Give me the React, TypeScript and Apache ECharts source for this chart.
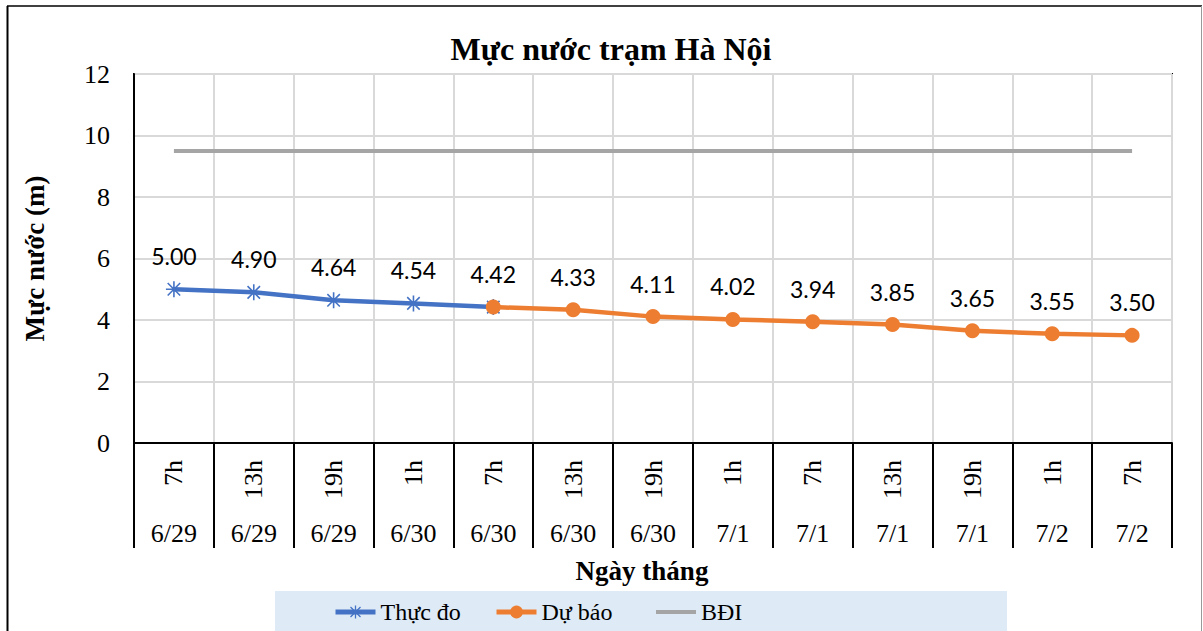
import React, { useEffect, useRef } from "react";
import * as echarts from "echarts";

const hours = ["7h", "13h", "19h", "1h", "7h", "13h", "19h", "1h", "7h", "13h", "19h", "1h", "7h"];
const dates = ["6/29", "6/29", "6/29", "6/30", "6/30", "6/30", "6/30", "7/1", "7/1", "7/1", "7/1", "7/2", "7/2"];
const thucDo = [5.0, 4.9, 4.64, 4.54, 4.42, null, null, null, null, null, null, null, null];
const duBao = [null, null, null, null, 4.42, 4.33, 4.11, 4.02, 3.94, 3.85, 3.65, 3.55, 3.5];
const bdi = [9.5, 9.5, 9.5, 9.5, 9.5, 9.5, 9.5, 9.5, 9.5, 9.5, 9.5, 9.5, 9.5];
const yTicks = { min: 0, max: 12, interval: 2 };
const seriesNames = ["Thực đo", "Dự báo", "BĐI"];

const SERIF = "'Liberation Serif', 'Times New Roman', serif";
const SANS = "Lato, 'Noto Sans', sans-serif";
const STAR =
  "path://M9,0H11V20H9Z M0,9H20V11H0Z M1.5,2.9L2.9,1.5L18.5,17.1L17.1,18.5Z M17.1,1.5L18.5,2.9L2.9,18.5L1.5,17.1Z";
const LINE_ICON = "path://M0,0H0.01V0.01H0Z M0,6H40V10H0Z M39.99,15.99H40V16H39.99Z";

export default function App() {
  const ref = useRef<HTMLDivElement>(null);
  useEffect(() => {
    if (!ref.current) return;
    const chart = echarts.init(ref.current, undefined, { renderer: "svg" });
    const label = (hideIdx: number | null) => ({
      show: true,
      position: "top",
      distance: 14,
      color: "#000",
      fontFamily: SANS,
      fontSize: 23,
      formatter: (p: any) => (p.dataIndex === hideIdx || p.value == null ? "" : Number(p.value).toFixed(2)),
    });
    const legendLefts = [333, 494, 656];
    const legends = seriesNames.map((n, i) => ({
      data: [i === 2 ? { name: n, icon: LINE_ICON } : n],
      left: legendLefts[i],
      top: 600,
      padding: 0,
      itemWidth: 40,
      itemHeight: 16,
      itemGap: 0,
      lineStyle: { width: 5 },
      textStyle: { fontFamily: SERIF, fontSize: 24, color: "#000" },
    }));
    chart.setOption({
      animation: false,
      backgroundColor: "#fff",
      title: {
        text: "Mực nước trạm Hà Nội",
        left: 606,
        textAlign: "center",
        top: 28,
        textStyle: { fontFamily: SERIF, fontWeight: "bold", fontSize: 32, color: "#000" },
      },
      grid: {
        left: 134,
        top: 74,
        width: 1038,
        height: 369,
        show: true,
        borderColor: "#000",
        borderWidth: 2,
        containLabel: false,
      },
      legend: legends,
      xAxis: [
        {
          type: "category",
          data: hours,
          boundaryGap: true,
          axisLine: { lineStyle: { color: "#000", width: 2 } },
          axisTick: { show: true, length: 105, interval: 0, lineStyle: { color: "#000", width: 2 } },
          splitLine: { show: true, interval: 0, lineStyle: { color: "#d9d9d9", width: 2 } },
          axisLabel: { interval: 0, rotate: 90, margin: 17, fontFamily: SERIF, fontSize: 26, color: "#000" },
        },
        {
          type: "category",
          data: dates,
          position: "bottom",
          boundaryGap: true,
          axisLine: { show: false },
          axisTick: { show: false },
          splitLine: { show: false },
          axisLabel: { interval: 0, margin: 77, fontFamily: SERIF, fontSize: 26, color: "#000" },
        },
      ],
      yAxis: {
        type: "value",
        min: yTicks.min,
        max: yTicks.max,
        interval: yTicks.interval,
        name: "Mực nước (m)",
        nameLocation: "middle",
        nameGap: 86,
        nameTextStyle: { fontFamily: SERIF, fontWeight: "bold", fontSize: 27, color: "#000" },
        axisLine: { show: true, lineStyle: { color: "#000", width: 2 } },
        axisTick: { show: false },
        splitLine: { show: true, lineStyle: { color: "#d9d9d9", width: 2 } },
        axisLabel: { margin: 24, fontFamily: SERIF, fontSize: 26, color: "#000" },
      },
      series: [
        {
          name: seriesNames[2],
          type: "line",
          data: bdi,
          showSymbol: false,
          symbol: "none",
          lineStyle: { color: "#A5A5A5", width: 4 },
          itemStyle: { color: "#A5A5A5" },
          z: 2,
        },
        {
          name: seriesNames[0],
          type: "line",
          data: thucDo,
          symbol: STAR,
          symbolSize: 16,
          lineStyle: { color: "#4472C4", width: 4.5 },
          itemStyle: { color: "#4472C4" },
          label: label(4),
          z: 3,
        },
        {
          name: seriesNames[1],
          type: "line",
          data: duBao,
          symbol: "circle",
          symbolSize: 15,
          lineStyle: { color: "#ED7D31", width: 4.5 },
          itemStyle: { color: "#ED7D31" },
          label: label(null),
          z: 4,
        },
      ],
      graphic: [
        { type: "rect", shape: { x: 275, y: 591, width: 732, height: 45 }, style: { fill: "#DEEBF7" }, z: 0 },
        { type: "line", shape: { x1: 7.5, y1: 6, x2: 7.5, y2: 640 }, style: { stroke: "#000", lineWidth: 2 }, z: 10 },
        { type: "line", shape: { x1: 7, y1: 6, x2: 1202, y2: 6 }, style: { stroke: "#000", lineWidth: 1.5 }, z: 10 },
        { type: "line", shape: { x1: 1201.5, y1: 6, x2: 1201.5, y2: 640 }, style: { stroke: "#999", lineWidth: 1 }, z: 10 },
        {
          type: "text",
          x: 642,
          y: 571,
          style: {
            text: "Ngày tháng",
            fontFamily: SERIF,
            fontWeight: "bold",
            fontSize: 27,
            fill: "#000",
            align: "center",
            verticalAlign: "middle",
          },
        },
      ],
    });
    return () => chart.dispose();
  }, []);
  return <div ref={ref} style={{ position: "absolute", left: 0, top: 0, width: 1203, height: 631 }} />;
}
